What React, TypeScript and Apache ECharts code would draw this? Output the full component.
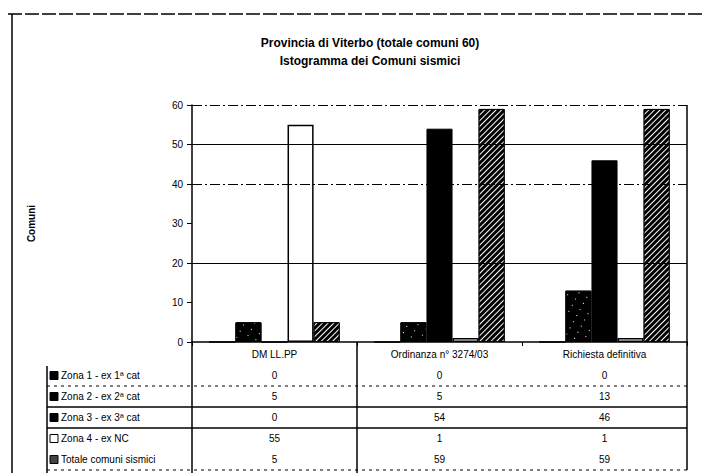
import React, { useEffect, useRef } from 'react';
import * as echarts from 'echarts';

const titleLines = ['Provincia di Viterbo (totale comuni 60)', 'Istogramma dei Comuni sismici'];
const yAxisName = 'Comuni';
const categories = ['DM LL.PP', 'Ordinanza n° 3274/03', 'Richiesta definitiva'];
const seriesNames = ['Zona 1 - ex 1ª cat', 'Zona 2 - ex 2ª cat', 'Zona 3 - ex 3ª cat', 'Zona 4 - ex NC', 'Totale comuni sismici'];
const zona1 = [0, 0, 0];
const zona2 = [5, 5, 13];
const zona3 = [0, 54, 46];
const zona4 = [55, 1, 1];
const totale = [5, 59, 59];
const seriesData = [zona1, zona2, zona3, zona4, totale];
const yMin = 0;
const yMax = 60;
const yStep = 10;
const solidGridValues = [20, 50];
const dashedGridValues = [40, 60];

const FONT = '"Liberation Sans", Arial, sans-serif';

const speckle = {
  symbol: 'rect',
  color: '#ffffff',
  dashArrayX: [[1, 8]],
  dashArrayY: [1, 6],
  rotation: 0.5,
};
const hatch = {
  symbol: 'rect',
  color: '#ffffff',
  dashArrayX: [1, 0],
  dashArrayY: [1, 3],
  rotation: -Math.PI / 4,
};

const styles: any[] = [
  { color: '#000', borderColor: '#000', borderWidth: 1 },
  { color: '#000', borderColor: '#000', borderWidth: 1, decal: speckle },
  { color: '#000', borderColor: '#000', borderWidth: 1 },
  { color: '#fff', borderColor: '#000', borderWidth: 1.5 },
  { color: '#000', borderColor: '#000', borderWidth: 1, decal: hatch },
];
const legendFills = ['#000', '#000', '#000', '#fff', '#444'];

export default function App() {
  const ref = useRef<HTMLDivElement>(null);
  useEffect(() => {
    if (!ref.current) return;
    const chart = echarts.init(ref.current, undefined, { renderer: 'svg' });
    const gridMarks = {
      silent: true,
      symbol: 'none',
      label: { show: false },
      data: [
        ...solidGridValues.map((v) => ({ yAxis: v, lineStyle: { color: '#000', width: 1.2, type: 'solid' } })),
        ...dashedGridValues.map((v) => ({ yAxis: v, lineStyle: { color: '#000', width: 1.2, type: [10, 3, 2, 3] } })),
      ],
    };
    const option: any = {
      animation: false,
      backgroundColor: '#fff',
      grid: { left: 192, right: 17, top: 105, bottom: 131, containLabel: false },
      xAxis: {
        type: 'category',
        data: categories,
        axisLine: { lineStyle: { color: '#000', width: 1.5 } },
        axisTick: { show: true, length: 4, lineStyle: { color: '#000', width: 1 } },
        axisLabel: { color: '#000', fontSize: 10, fontFamily: FONT, margin: 7 },
        splitLine: { show: false },
      },
      yAxis: {
        type: 'value',
        min: yMin,
        max: yMax,
        interval: yStep,
        name: yAxisName,
        nameLocation: 'middle',
        nameGap: 156,
        nameRotate: 90,
        nameTextStyle: { color: '#000', fontSize: 10, fontWeight: 'bold', fontFamily: FONT },
        axisLine: { show: true, lineStyle: { color: '#000', width: 1.5 } },
        axisTick: { show: true, length: 5, lineStyle: { color: '#000' } },
        axisLabel: { color: '#000', fontSize: 10, fontFamily: FONT, margin: 9 },
        splitLine: { show: false },
      },
      series: seriesData.map((d, i) => ({
        name: seriesNames[i],
        type: 'bar',
        data: d,
        barGap: '0%',
        barCategoryGap: '21%',
        itemStyle: styles[i],
        z: 3,
        ...(i === 0 ? { markLine: gridMarks } : {}),
      })),
    };
    chart.setOption(option);

    const cx = categories.map((_, i) => chart.convertToPixel({ xAxisIndex: 0 }, i) as number);
    const band = cx.length > 1 ? cx[1] - cx[0] : 165;
    const left = cx[0] - band / 2;
    const right = cx[cx.length - 1] + band / 2;
    const y0 = chart.convertToPixel({ yAxisIndex: 0 }, yMin) as number;
    const yTop = chart.convertToPixel({ yAxisIndex: 0 }, yMax) as number;
    const rowTop = y0 + 23;
    const rowH = 21;
    const legendLeft = 47;
    const bottom = 473;

    const g: any[] = [];
    g.push({ type: 'line', shape: { x1: 8, y1: 14, x2: 704, y2: 14 }, style: { stroke: '#000', lineWidth: 1.5, lineDash: [14, 3] } });
    g.push({ type: 'line', shape: { x1: 12, y1: 14, x2: 12, y2: bottom }, style: { stroke: '#000', lineWidth: 1.5 } });
    g.push({
      type: 'text',
      x: 370,
      y: 34,
      style: {
        text: titleLines.join('\n'),
        textAlign: 'center',
        font: `bold 12px ${FONT}`,
        lineHeight: 18,
        fill: '#000',
      },
    });
    g.push({ type: 'line', shape: { x1: right, y1: yTop, x2: right, y2: rowTop + rowH * 5 }, style: { stroke: '#000', lineWidth: 1.5 } });
    g.push({ type: 'line', shape: { x1: left, y1: y0, x2: left, y2: bottom }, style: { stroke: '#000', lineWidth: 1.5 } });
    g.push({ type: 'line', shape: { x1: left + band, y1: y0, x2: left + band, y2: bottom }, style: { stroke: '#000', lineWidth: 1.5 } });
    g.push({ type: 'line', shape: { x1: legendLeft, y1: rowTop + 1, x2: legendLeft, y2: bottom }, style: { stroke: '#000', lineWidth: 1.5 } });
    for (let r = 1; r <= 5; r++) {
      const y = rowTop + rowH * r;
      const solid = r === 2 || r === 3;
      if (r === 4) continue;
      g.push({
        type: 'line',
        shape: { x1: legendLeft, y1: y, x2: right, y2: y },
        style: { stroke: '#000', lineWidth: solid ? 1.5 : 1, lineDash: solid ? null : [3, 4] },
      });
    }
    seriesData.forEach((d, r) => {
      const cy = rowTop + rowH * r + rowH / 2;
      g.push({
        type: 'rect',
        shape: { x: legendLeft + 3, y: cy - 4, width: 8, height: 8 },
        style: { fill: legendFills[r], stroke: '#000', lineWidth: 1 },
      });
      g.push({
        type: 'text',
        x: legendLeft + 14,
        y: cy,
        style: { text: seriesNames[r], font: `10px ${FONT}`, fill: '#000', textVerticalAlign: 'middle', textAlign: 'left' },
      });
      d.forEach((v, c) => {
        g.push({
          type: 'text',
          x: cx[c],
          y: cy,
          style: { text: String(v), font: `10px ${FONT}`, fill: '#000', textVerticalAlign: 'middle', textAlign: 'center' },
        });
      });
    });
    chart.setOption({ graphic: g });
    return () => chart.dispose();
  }, []);
  return (
    <div
      ref={ref}
      style={{ position: 'fixed', left: 0, top: 0, width: 704, height: 473, background: '#fff' }}
    />
  );
}
